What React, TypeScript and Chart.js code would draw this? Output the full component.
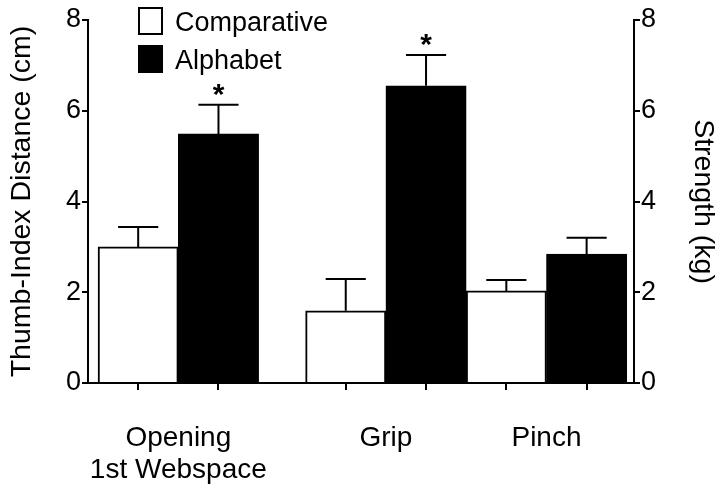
import React, { useEffect, useRef } from 'react';
import { Chart, registerables } from 'chart.js';

Chart.register(...registerables);

// ---------- data ----------
const categories: (string | string[])[] = [['Opening', '1st Webspace'], 'Grip', 'Pinch'];
const measureUnits = ['cm', 'kg', 'kg'];
const seriesNames = ['Comparative', 'Alphabet'];
const comparativeMeans = [3.0, 1.59, 2.03];
const comparativeErrors = [0.44, 0.7, 0.24];
const alphabetMeans = [5.49, 6.55, 2.84];
const alphabetErrors = [0.64, 0.68, 0.36];
const alphabetSignificant = [true, true, false];
const yTickValues = [0, 2, 4, 6, 8];
const leftAxisTitle = 'Thumb-Index Distance (cm)';
const rightAxisTitle = 'Strength (kg)';

// ---------- layout (in bar-width units) ----------
const SIDE_PAD = 0.125;
const UNIT_GAP = 0.585;
const END_PAD = 0.09;
const FONT = '"Liberation Sans", Arial, Helvetica, sans-serif';

const compX: number[] = [];
const alphaX: number[] = [];
const groupX: number[] = [];
let cursor = SIDE_PAD;
categories.forEach((_, i) => {
  if (i > 0 && measureUnits[i] !== measureUnits[i - 1]) cursor += UNIT_GAP;
  compX.push(cursor + 0.5);
  alphaX.push(cursor + 1.5);
  groupX.push(cursor + 1);
  cursor += 2;
});
const X_MAX = cursor + END_PAD;
const barCenters = [...compX, ...alphaX].sort((a, b) => a - b);
const errorSets = [comparativeErrors, alphabetErrors];

const errorBarPlugin = {
  id: 'errorBars',
  afterDatasetsDraw(chart: any) {
    const ctx = chart.ctx;
    const y = chart.scales.y;
    chart.data.datasets.forEach((ds: any, di: number) => {
      const meta = chart.getDatasetMeta(di);
      const errs = errorSets[di];
      meta.data.forEach((bar: any, i: number) => {
        const v = ds.data[i].y;
        const top = y.getPixelForValue(v + errs[i]);
        const half = bar.width / 4;
        ctx.save();
        ctx.strokeStyle = '#000';
        ctx.lineWidth = 2;
        ctx.beginPath();
        ctx.moveTo(bar.x, bar.y);
        ctx.lineTo(bar.x, top);
        ctx.moveTo(bar.x - half, top);
        ctx.lineTo(bar.x + half, top);
        ctx.stroke();
        if (di === 1 && alphabetSignificant[i]) {
          ctx.fillStyle = '#000';
          ctx.font = `bold 30px ${FONT}`;
          ctx.textAlign = 'center';
          ctx.textBaseline = 'alphabetic';
          ctx.fillText('*', bar.x, top - 1);
        }
        ctx.restore();
      });
    });
  },
};

const legendPlugin = {
  id: 'boxLegend',
  afterDraw(chart: any) {
    const ctx = chart.ctx;
    const { left, top } = chart.chartArea;
    const x = left + 50;
    chart.data.datasets.forEach((ds: any, di: number) => {
      const y = top - 13 + di * 38;
      ctx.save();
      if (di === 0) {
        ctx.fillStyle = '#fff';
        ctx.fillRect(x, y, 25, 28);
        ctx.strokeStyle = '#000';
        ctx.lineWidth = 2;
        ctx.strokeRect(x + 1, y + 1, 23, 26);
      } else {
        ctx.fillStyle = '#000';
        ctx.fillRect(x, y, 25, 28);
      }
      ctx.fillStyle = '#000';
      ctx.font = `27px ${FONT}`;
      ctx.textAlign = 'left';
      ctx.textBaseline = 'alphabetic';
      ctx.fillText(ds.label, x + 37, y + 24);
      ctx.restore();
    });
  },
};

export default function App() {
  const ref = useRef<HTMLCanvasElement>(null);
  useEffect(() => {
    document.body.style.margin = '0';
    Chart.defaults.color = '#000';
    Chart.defaults.font.family = FONT;
    const tickFont = { size: 27, family: FONT };
    const titleFont = { size: 28.5, family: FONT, lineHeight: 1.1 };
    const chart = new Chart(ref.current as HTMLCanvasElement, {
      type: 'bar',
      data: {
        datasets: [
          {
            label: seriesNames[0],
            data: comparativeMeans.map((v, i) => ({ x: compX[i], y: v })),
            backgroundColor: '#fff',
            borderColor: '#000',
            borderWidth: 2,
            borderSkipped: 'bottom',
          },
          {
            label: seriesNames[1],
            data: alphabetMeans.map((v, i) => ({ x: alphaX[i], y: v })),
            backgroundColor: '#000',
            borderColor: '#000',
            borderWidth: 2,
            borderSkipped: 'bottom',
          },
        ] as any,
      },
      options: {
        animation: false,
        responsive: false,
        grouped: false,
        categoryPercentage: 1,
        barPercentage: 1,
        layout: { padding: { top: 20, left: 0, right: 0, bottom: 0 } },
        plugins: { legend: { display: false }, tooltip: { enabled: false } },
        scales: {
          x: {
            type: 'linear',
            position: 'bottom',
            weight: 0,
            offset: false,
            min: 0,
            max: X_MAX,
            afterBuildTicks: (s: any) => {
              s.ticks = barCenters.map((v) => ({ value: v }));
            },
            ticks: { display: false },
            grid: { offset: false, drawOnChartArea: false, drawTicks: true, tickLength: 7, color: '#000', lineWidth: 2 },
            border: { display: true, color: '#000', width: 2 },
            afterFit: (s: any) => {
              s.height = 8;
            },
          },
          x2: {
            type: 'linear',
            position: 'bottom',
            weight: 1,
            offset: false,
            min: 0,
            max: X_MAX,
            afterBuildTicks: (s: any) => {
              s.ticks = groupX.map((v) => ({ value: v }));
            },
            ticks: {
              autoSkip: false,
              maxRotation: 0,
              minRotation: 0,
              padding: 24,
              font: { size: 28, family: FONT, lineHeight: 1.12 },
              color: '#000',
              callback: (_v: any, i: number) => categories[i] as any,
            },
            grid: { display: false, offset: false },
            border: { display: false },
            afterFit: (s: any) => {
              s.height = 97;
            },
          },
          y: {
            position: 'left',
            min: 0,
            max: 8,
            afterBuildTicks: (s: any) => {
              s.ticks = yTickValues.map((v) => ({ value: v }));
            },
            ticks: { padding: 1, font: tickFont, color: '#000' },
            grid: { drawOnChartArea: false, tickLength: 6, color: '#000', lineWidth: 2 },
            border: { display: true, color: '#000', width: 2 },
            title: { display: true, text: leftAxisTitle, font: titleFont, color: '#000', padding: { top: 6, bottom: 0 } },
            afterFit: (s: any) => {
              s.width = 88;
            },
          },
          y2: {
            position: 'right',
            min: 0,
            max: 8,
            afterBuildTicks: (s: any) => {
              s.ticks = yTickValues.map((v) => ({ value: v }));
            },
            ticks: { padding: 1, font: tickFont, color: '#000' },
            grid: { drawOnChartArea: false, tickLength: 6, color: '#000', lineWidth: 2 },
            border: { display: true, color: '#000', width: 2 },
            title: { display: true, text: rightAxisTitle, font: titleFont, color: '#000', padding: { top: 0, bottom: 0 } },
            afterFit: (s: any) => {
              s.width = 85;
            },
          },
        },
      } as any,
      plugins: [errorBarPlugin, legendPlugin],
    });
    return () => chart.destroy();
  }, []);
  return (
    <div style={{ width: 719, height: 488 }}>
      <canvas ref={ref} width={719} height={488} style={{ display: 'block' }} />
    </div>
  );
}
